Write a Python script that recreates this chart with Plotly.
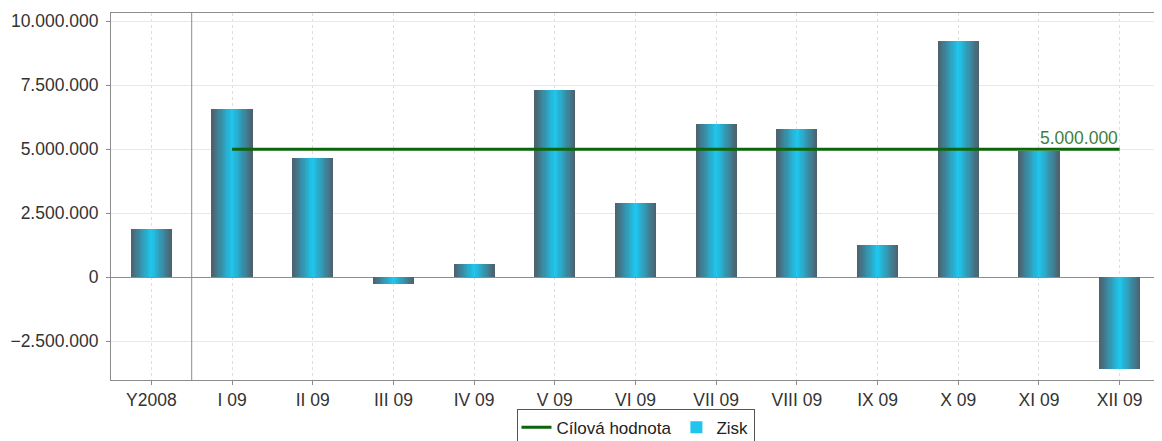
import plotly.graph_objects as go

categories = ["Y2008", "I 09", "II 09", "III 09", "IV 09", "V 09", "VI 09",
              "VII 09", "VIII 09", "IX 09", "X 09", "XI 09", "XII 09"]
zisk = [1890000, 6560000, 4650000, -270000, 510000, 7320000, 2890000,
        5990000, 5800000, 1250000, 9240000, 4930000, -3580000]
target_categories = categories[1:]
target_values = [5000000] * len(target_categories)
y_ticks = [-2500000, 0, 2500000, 5000000, 7500000, 10000000]

FONT = "Liberation Sans, Arial, sans-serif"
FS = 17.5
dark = (78, 94, 106)
cyan = (30, 200, 240)

fig = go.Figure()

fig.add_trace(go.Scatter(
    x=target_categories, y=target_values, mode="lines", name="Cílová hodnota",
    line=dict(color="#0b650b", width=3), hoverinfo="skip"))

N = 18
full_w = 0.51
for k in range(N):
    w = full_w * (1 - k / N)
    r = (1 - (k + 0.5) / N)
    col = tuple(int(round(cyan[i] + (dark[i] - cyan[i]) * r)) for i in range(3))
    last = (k == N - 1)
    fig.add_trace(go.Bar(
        x=categories, y=zisk, width=w,
        marker=dict(color="rgb(%d,%d,%d)" % col, line=dict(width=0)),
        name="Zisk", showlegend=last, legendgroup="zisk",
        hoverinfo="skip" if not last else None))

fig.add_annotation(
    x=target_categories[-1], y=target_values[-1], text="5.000.000",
    xanchor="right", yanchor="bottom", showarrow=False, yshift=-1,
    font=dict(family=FONT, size=FS, color="#3f7f3f"))

fig.add_shape(type="line", xref="x", yref="paper", x0=0.5, x1=0.5, y0=0, y1=1,
              line=dict(color="#8c8c8c", width=1), layer="above")

fig.update_layout(
    width=1154, height=433,
    margin=dict(l=103, r=2, t=5, b=61, autoexpand=False),
    paper_bgcolor="white", plot_bgcolor="white",
    barmode="overlay", bargap=0,
    separators=",.",
    font=dict(family=FONT, size=FS, color="#333333"),
    showlegend=True,
    legend=dict(orientation="h", x=0.5, xanchor="center", y=-0.078, yanchor="top",
                bordercolor="#555555", borderwidth=1, bgcolor="white",
                font=dict(family=FONT, size=17, color="#222222"),
                itemwidth=30, tracegroupgap=0),
    xaxis=dict(type="category", categoryorder="array", categoryarray=categories,
               range=[-0.5, 12.5], automargin=False,
               showgrid=True, gridcolor="#dedede", griddash="dot", gridwidth=1,
               showline=True, linecolor="#8c8c8c", linewidth=1, mirror=True,
               ticks="outside", ticklen=4, tickcolor="#8c8c8c",
               tickfont=dict(family=FONT, size=FS, color="#333333")),
    yaxis=dict(range=[-4010000, 10320000], tickvals=y_ticks, tickformat=",d",
               automargin=False,
               showgrid=True, gridcolor="#e8e8e8", gridwidth=1,
               zeroline=True, zerolinecolor="#8c8c8c", zerolinewidth=1,
               showline=True, linecolor="#8c8c8c", linewidth=1,
               ticks="outside", ticklen=4, tickcolor="#8c8c8c",
               ticklabelstandoff=4,
               tickfont=dict(family=FONT, size=FS, color="#333333")),
)

fig.write_html("out.html")
